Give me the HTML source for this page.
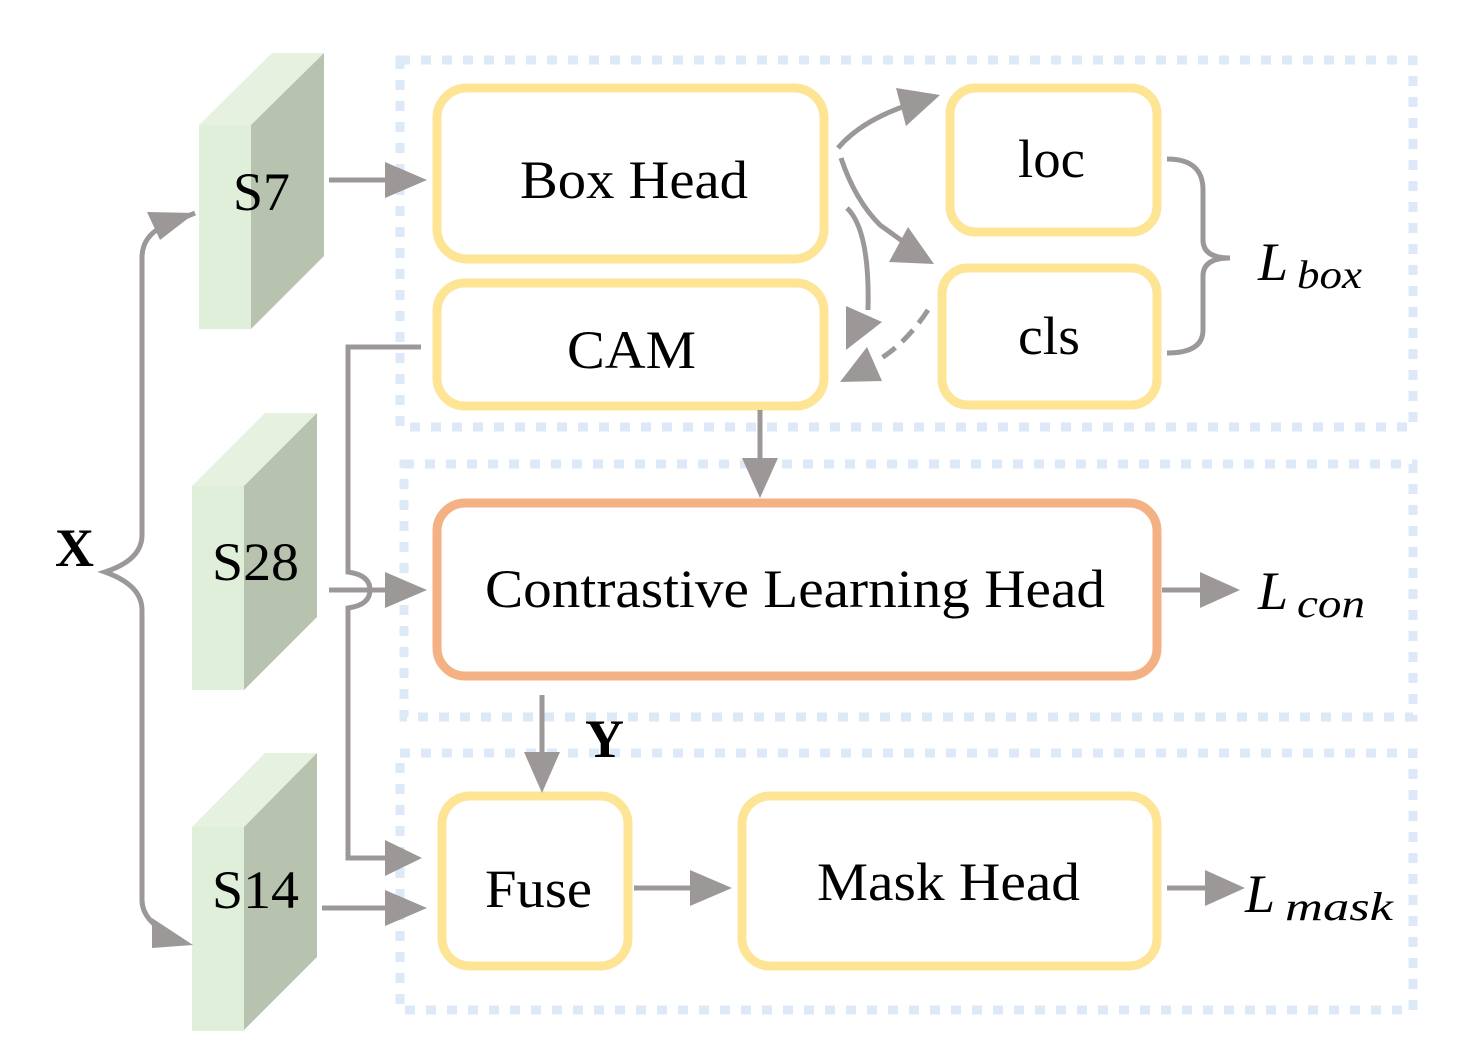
<!DOCTYPE html>
<html><head><style>html,body{margin:0;padding:0;background:#fff}svg text{font-family:"Liberation Serif","Times New Roman",serif}</style></head><body>
<svg width="1462" height="1056" viewBox="0 0 1462 1056" xmlns="http://www.w3.org/2000/svg" style="font-family:'Liberation Serif',serif">
<g fill="none" stroke="#dde9f7" stroke-width="9" stroke-dasharray="10 11">
<rect x="400" y="60" width="1013" height="367"/>
<rect x="404" y="464" width="1009" height="253"/>
<rect x="400" y="753" width="1013" height="257"/>
</g>
<g>
<polygon points="199,125 272,53 324,53 251,125" fill="#e6f1e0"/>
<polygon points="251,125 324,53 324,256 251,329" fill="#b7c3ae"/>
<rect x="199" y="125" width="52" height="204" fill="#e0efda"/>
<polygon points="192,486 265,413 317,413 244,486" fill="#e6f1e0"/>
<polygon points="244,486 317,413 317,617 244,690" fill="#b7c3ae"/>
<rect x="192" y="486" width="52" height="204" fill="#e0efda"/>
<polygon points="192,827 265,753 317,753 244,827" fill="#e6f1e0"/>
<polygon points="244,827 317,753 317,957 244,1030" fill="#b7c3ae"/>
<rect x="192" y="827" width="52" height="204" fill="#e0efda"/>
</g>
<g font-size="54" fill="#000" lengthAdjust="spacingAndGlyphs">
<text x="233" y="210" textLength="57" lengthAdjust="spacingAndGlyphs">S7</text>
<text x="212" y="580" textLength="87" lengthAdjust="spacingAndGlyphs">S28</text>
<text x="212" y="908" textLength="87" lengthAdjust="spacingAndGlyphs">S14</text>
</g>
<g fill="#fff" stroke="#fde595" stroke-width="9">
<rect x="437" y="88" width="387" height="171" rx="30"/>
<rect x="437" y="283" width="387" height="123" rx="28"/>
<rect x="950" y="88" width="207" height="144" rx="26"/>
<rect x="942" y="268" width="215" height="137" rx="26"/>
<rect x="442" y="796" width="186" height="170" rx="28"/>
<rect x="742" y="796" width="415" height="170" rx="28"/>
</g>
<rect x="437" y="503" width="720" height="173" rx="28" fill="#fff" stroke="#f4b183" stroke-width="9"/>
<g font-size="54" fill="#000">
<text x="520" y="198" textLength="228" lengthAdjust="spacingAndGlyphs">Box Head</text>
<text x="567" y="368" textLength="129" lengthAdjust="spacingAndGlyphs">CAM</text>
<text x="1018" y="177" textLength="67" lengthAdjust="spacingAndGlyphs">loc</text>
<text x="1018" y="354" textLength="62" lengthAdjust="spacingAndGlyphs">cls</text>
<text x="485" y="607" textLength="620" lengthAdjust="spacingAndGlyphs">Contrastive Learning Head</text>
<text x="485" y="907" textLength="107" lengthAdjust="spacingAndGlyphs">Fuse</text>
<text x="817" y="900" textLength="263" lengthAdjust="spacingAndGlyphs">Mask Head</text>
</g>
<g font-size="54" font-style="italic" fill="#000">
<text x="1258" y="280">L</text><text x="1297" y="288" font-size="40" textLength="65" lengthAdjust="spacingAndGlyphs">box</text>
<text x="1258" y="609">L</text><text x="1297" y="617" font-size="40" textLength="68" lengthAdjust="spacingAndGlyphs">con</text>
<text x="1245" y="912">L</text><text x="1285" y="920" font-size="40" textLength="108" lengthAdjust="spacingAndGlyphs">mask</text>
</g>
<g font-size="54" font-weight="bold" fill="#000">
<text x="55" y="566">X</text>
<text x="585" y="757">Y</text>
</g>
<g fill="none" stroke="#9c9898" stroke-width="5">
<path d="M195,213 L160,228 Q142,238 142,258 L142,535 Q142,560 105,572 Q142,585 142,610 L142,900 Q142,920 170,935"/>
<path d="M329,180 L385,180"/>
<path d="M421,347 L348,347 L348,572 Q370,575 370,590 Q370,605 348,608 L348,858 L385,858"/>
<path d="M329,590 L385,590"/>
<path d="M322,908 L385,908"/>
<path d="M760,410 L760,458"/>
<path d="M1162,590 L1200,590"/>
<path d="M542,695 L542,752"/>
<path d="M634,888 L690,888"/>
<path d="M1167,888 L1205,888"/>
<path d="M838,148 Q860,122 905,106"/>
<path d="M841,158 Q855,200 880,225 L905,243"/>
<path d="M847,208 Q870,230 868,310"/>
<path d="M928,310 Q905,345 875,362" stroke-dasharray="16 9"/>
<path d="M1167,159 Q1203,159 1203,190 L1203,240 Q1203,258 1230,258 Q1203,258 1203,276 L1203,330 Q1203,353 1167,353"/>
</g>
<g fill="#9c9898">
<polygon points="385,162 427,180 385,198"/>
<polygon points="385,572 427,590 385,608"/>
<polygon points="385,840 422,858 385,876"/>
<polygon points="385,890 427,908 385,926"/>
<polygon points="742,458 760,498 778,458"/>
<polygon points="1200,572 1240,590 1200,608"/>
<polygon points="524,752 542,793 560,752"/>
<polygon points="690,870 732,888 690,906"/>
<polygon points="1205,870 1245,888 1205,906"/>
<polygon points="147,212 195,213 160,240"/>
<polygon points="152,918 193,945 152,948"/>
<polygon points="896,88 940,95 906,126"/>
<polygon points="908,227 934,264 889,262"/>
<polygon points="846,306 882,322 846,350"/>
<polygon points="840,382 867,347 882,381"/>
</g>
</svg>
</body></html>
